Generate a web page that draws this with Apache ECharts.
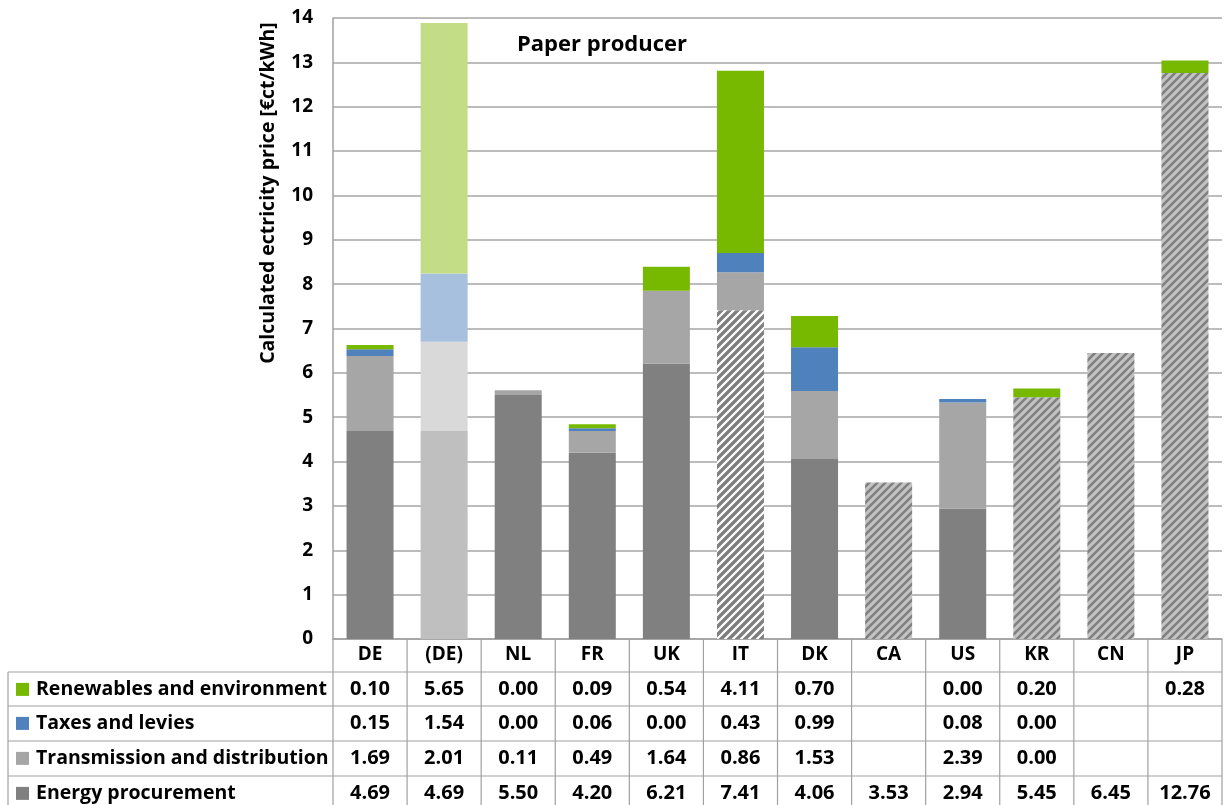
<!DOCTYPE html>
<html>
<head>
<meta charset="utf-8">
<script src="https://cdn.jsdelivr.net/npm/echarts@6/dist/echarts.min.js"></script>
<style>
html,body{margin:0;padding:0;background:#fff;}
#chart{width:1224px;height:805px;}
</style>
</head>
<body>
<div id="chart"></div>
<script>
const categories = ['DE','(DE)','NL','FR','UK','IT','DK','CA','US','KR','CN','JP'];
const seriesNames = ['Renewables and environment','Taxes and levies','Transmission and distribution','Energy procurement'];
const renewables = [0.10, 5.65, 0.00, 0.09, 0.54, 4.11, 0.70, null, 0.00, 0.20, null, 0.28];
const taxes      = [0.15, 1.54, 0.00, 0.06, 0.00, 0.43, 0.99, null, 0.08, 0.00, null, null];
const transmission = [1.69, 2.01, 0.11, 0.49, 1.64, 0.86, 1.53, null, 2.39, 0.00, null, null];
const energy     = [4.69, 4.69, 5.50, 4.20, 6.21, 7.41, 4.06, 3.53, 2.94, 5.45, 6.45, 12.76];
const yTicks = [0,1,2,3,4,5,6,7,8,9,10,11,12,13,14];
const titleText = 'Paper producer';
const yAxisTitle = 'Calculated ectricity price [€ct/kWh]';

const FONT = '"Open Sans", sans-serif';
const baseColors = ['#77b800', '#4f81bd', '#a6a6a6', '#808080'];
const lightColors = ['#c2dd86', '#a7c0de', '#d9d9d9', '#bfbfbf'];

function hatch(bg, fg, lw) {
  const c = document.createElement('canvas');
  c.width = 8; c.height = 8;
  const g = c.getContext('2d');
  g.fillStyle = bg; g.fillRect(0, 0, 8, 8);
  g.strokeStyle = fg; g.lineWidth = lw;
  g.beginPath();
  g.moveTo(-2, 10); g.lineTo(10, -2);
  g.moveTo(-2, 2); g.lineTo(2, -2);
  g.moveTo(6, 10); g.lineTo(10, 6);
  g.stroke();
  return { image: c, repeat: 'repeat' };
}
const hatchWhite = hatch('#ffffff', '#7f7f7f', 3.4);
const hatchGray = hatch('#c3c3c3', '#808080', 2.6);

const hatchedWhite = ['IT'];
const hatchedGray = ['CA','KR','CN','JP'];
const lightCat = ['(DE)'];

function items(arr, sIdx) {
  return arr.map((v, i) => {
    const cat = categories[i];
    let color = baseColors[sIdx];
    if (lightCat.includes(cat)) color = lightColors[sIdx];
    if (sIdx === 3 && hatchedWhite.includes(cat)) color = hatchWhite;
    if (sIdx === 3 && hatchedGray.includes(cat)) color = hatchGray;
    return { value: v, itemStyle: { color: color } };
  });
}

const dataRows = [renewables, taxes, transmission, energy];
const stackOrder = [3, 2, 1, 0];

const chart = echarts.init(document.getElementById('chart'), null, { renderer: 'canvas' });

const gridLeft = 333, gridRight = 2, gridTop = 18, gridBottom = 166;

chart.setOption({
  animation: false,
  backgroundColor: '#ffffff',
  grid: { left: gridLeft, right: gridRight, top: gridTop, bottom: gridBottom, containLabel: false },
  xAxis: {
    type: 'category',
    data: categories,
    axisLine: { show: true, lineStyle: { color: '#a0a0a0', width: 1.5 } },
    axisTick: { show: false },
    axisLabel: { color: '#000', fontFamily: FONT, fontWeight: 'bold', fontSize: 19, margin: 6, lineHeight: 20 }
  },
  yAxis: {
    type: 'value',
    min: yTicks[0], max: yTicks[yTicks.length - 1], interval: 1,
    axisLine: { show: true, lineStyle: { color: '#a0a0a0', width: 1.5 } },
    axisTick: { show: false },
    splitLine: { show: true, lineStyle: { color: '#a6a6a6', width: 1.5 } },
    axisLabel: { color: '#000', fontFamily: FONT, fontWeight: 'bold', fontSize: 19, margin: 20 }
  },
  series: stackOrder.map(s => ({
    name: seriesNames[s],
    type: 'bar',
    stack: 'total',
    barWidth: 47,
    data: items(dataRows[s], s),
    itemStyle: { color: baseColors[s] }
  }))
});

// Table drawn from the data arrays, positioned via the chart's own axes
const colW = chart.convertToPixel({ xAxisIndex: 0 }, 1) - chart.convertToPixel({ xAxisIndex: 0 }, 0);
const axisY = chart.convertToPixel({ yAxisIndex: 0 }, 0);
const x0 = chart.convertToPixel({ xAxisIndex: 0 }, 0) - colW / 2;
const xEnd = x0 + colW * categories.length;
const rowTops = [672, 706, 741, 776];
const rowH = 34.8;
const tableBottom = 812;
const tableLeft = 8;
const lineStyle = { stroke: '#a0a0a0', lineWidth: 1.2 };
const g = [];

rowTops.forEach(y => g.push({ type: 'line', shape: { x1: tableLeft, y1: y, x2: xEnd, y2: y }, style: lineStyle, silent: true }));
g.push({ type: 'line', shape: { x1: tableLeft, y1: rowTops[0], x2: tableLeft, y2: tableBottom }, style: lineStyle });
for (let k = 0; k <= categories.length; k++) {
  const x = x0 + k * colW;
  g.push({ type: 'line', shape: { x1: x, y1: axisY, x2: x, y2: tableBottom }, style: lineStyle });
}
seriesNames.forEach((name, r) => {
  const cy = rowTops[r] + rowH / 2;
  g.push({ type: 'rect', shape: { x: 16, y: cy - 6.5, width: 13, height: 13 }, style: { fill: baseColors[r] } });
  g.push({ type: 'text', x: 36, y: cy, style: { text: name, fill: '#000', font: 'bold 19.5px ' + FONT, textVerticalAlign: 'middle', textAlign: 'left' } });
  dataRows[r].forEach((v, i) => {
    if (v === null) return;
    const cx = chart.convertToPixel({ xAxisIndex: 0 }, i);
    g.push({ type: 'text', x: cx, y: cy, style: { text: v.toFixed(2), fill: '#000', font: 'bold 20px ' + FONT, textVerticalAlign: 'middle', textAlign: 'center' } });
  });
});
g.push({ type: 'text', x: 517, y: 45, style: { text: titleText, fill: '#000', font: 'bold 22px ' + FONT, textVerticalAlign: 'middle', textAlign: 'left' } });
g.push({ type: 'text', x: 268, y: 193, rotation: Math.PI / 2, style: { text: yAxisTitle, fill: '#000', font: 'bold 19.5px ' + FONT, textVerticalAlign: 'middle', textAlign: 'center' } });

chart.setOption({ graphic: { elements: g } });
</script>
</body>
</html>
